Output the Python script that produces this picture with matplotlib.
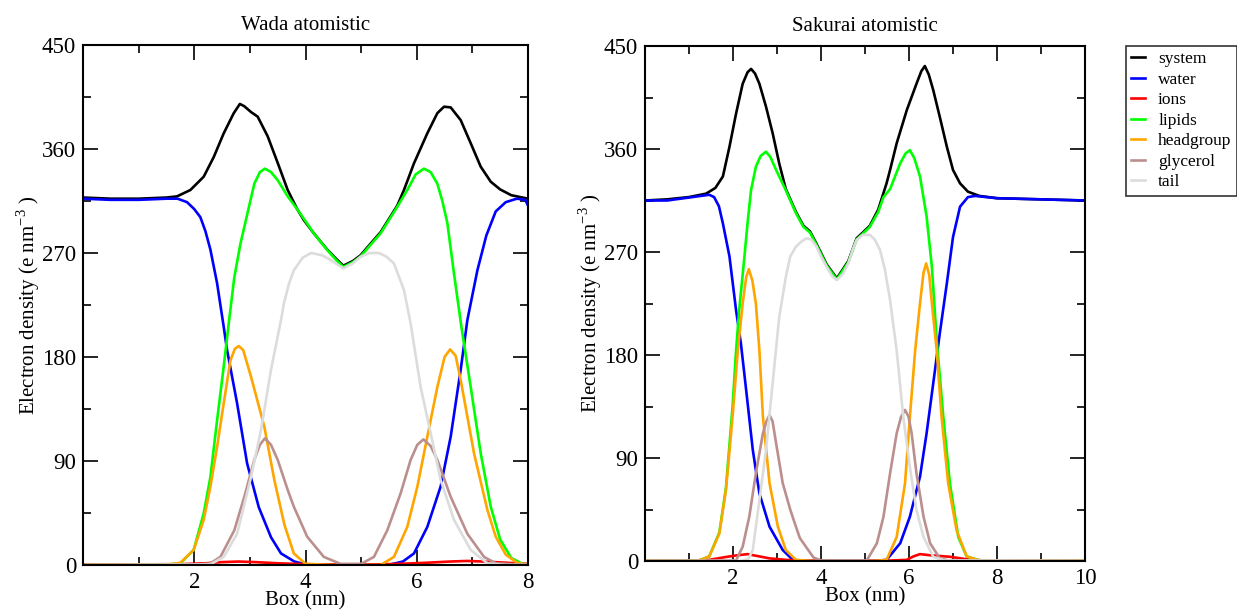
import matplotlib
matplotlib.use('Agg')
import matplotlib.pyplot as plt
from matplotlib.ticker import MultipleLocator

plt.rcParams['font.family'] = ['Liberation Serif', 'DejaVu Serif']
plt.rcParams['mathtext.fontset'] = 'custom'
plt.rcParams['mathtext.rm'] = 'Liberation Serif'

# ---- Wada atomistic (left) ----
wada_system_x = [0, 0.5, 1.0, 1.5, 1.69, 1.93, 2.17, 2.35, 2.53, 2.71, 2.82, 2.9, 3.02, 3.14, 3.32, 3.5,
                 3.68, 3.85, 3.97, 4.15, 4.39, 4.55, 4.68, 4.85, 4.99, 5.15, 5.35, 5.65, 5.77, 5.95, 6.19,
                 6.37, 6.49, 6.61, 6.79, 6.97, 7.15, 7.33, 7.5, 7.7, 8.0]
wada_system_y = [318, 317, 317, 318, 319, 324.5, 336, 353, 373.6, 391, 399, 397, 392, 388, 371, 348,
                 324.5, 308, 298.5, 287, 273, 265, 259, 263, 268, 277, 288, 311, 324.5, 347.6, 373.6,
                 391, 396.6, 396, 385, 365, 344.7, 331.7, 325, 320, 317]

wada_water_x = [0, 0.5, 1.0, 1.5, 1.7, 1.87, 2.0, 2.11, 2.2, 2.29, 2.41, 2.53, 2.59, 2.77, 2.95, 3.16,
                3.38, 3.56, 3.8, 4.0, 4.5, 5.0, 5.53, 5.75, 5.95, 6.19, 6.43, 6.61, 6.79, 6.91, 7.09,
                7.25, 7.42, 7.6, 7.8, 7.95, 8.0]
wada_water_y = [317, 316, 316, 317, 317, 314, 308, 301, 289, 273, 244, 206, 186, 140, 88, 50,
                24, 10, 3, 0.5, 0, 0, 0.5, 3, 10, 33, 68, 111, 169, 212, 255,
                285, 306, 314, 317, 316, 311]

wada_ions_x = [0, 1, 1.8, 2.2, 2.5, 2.8, 3.1, 3.5, 4.0, 4.7, 5.4, 5.8, 6.2, 6.6, 6.9, 7.2, 7.6, 8.0]
wada_ions_y = [0.5, 0.5, 0.8, 1.5, 2.5, 3, 2.5, 1.5, 0.7, 0.3, 0.6, 1.2, 2, 3, 3.5, 3, 2, 1]

wada_lipids_x = [0, 1.0, 1.5, 1.75, 1.99, 2.17, 2.29, 2.41, 2.53, 2.62, 2.72, 2.83, 2.95, 3.08, 3.18,
                 3.27, 3.38, 3.5, 3.68, 3.85, 4.15, 4.39, 4.55, 4.68, 4.85, 4.99, 5.15, 5.35, 5.65,
                 5.83, 5.98, 6.13, 6.25, 6.37, 6.46, 6.55, 6.67, 6.8, 6.97, 7.15, 7.33, 7.5, 7.7, 7.9, 8.0]
wada_lipids_y = [0, 0, 0.3, 1.5, 13, 44.7, 76, 125, 172, 209, 249, 278, 303, 330, 340,
                 343, 340, 333, 319, 308, 287, 272.6, 264, 258, 262, 267, 276, 287, 310,
                 324.5, 338, 343, 340, 330, 315, 296, 252, 207, 154, 96.6, 50.5, 22, 6, 1, 0.3]

wada_head_x = [0, 1.5, 1.75, 1.99, 2.17, 2.29, 2.41, 2.53, 2.65, 2.73, 2.8, 2.88, 3.02, 3.26, 3.44,
               3.62, 3.79, 4.0, 4.5, 5.0, 5.35, 5.59, 5.83, 6.01, 6.19, 6.37, 6.5, 6.6, 6.7, 6.79,
               7.03, 7.27, 7.42, 7.6, 7.8, 8.0]
wada_head_y = [0, 0, 2, 13, 39, 67.7, 102, 140, 177, 187, 189.5, 186, 163, 119.7, 73.5,
               35, 10, 1, 0, 0, 0, 7, 33, 67.7, 111, 154, 180, 186.6, 181, 160,
               96.6, 47.6, 24.5, 9, 2, 0]

wada_glyc_x = [0, 2.0, 2.29, 2.47, 2.72, 2.9, 3.08, 3.18, 3.27, 3.38, 3.5, 3.68, 3.79, 4.03, 4.33,
               4.63, 5.0, 5.23, 5.47, 5.71, 5.89, 6.01, 6.12, 6.25, 6.37, 6.61, 6.91, 7.21, 7.42, 8.0]
wada_glyc_y = [0, 0, 1.5, 7, 30, 59, 91, 104, 109.6, 104, 91, 65, 50.5, 24.5, 7,
               1, 1, 7, 30, 62, 91, 104, 108.7, 103, 91, 59, 27, 7, 1.5, 0]

wada_tail_x = [0, 2.29, 2.53, 2.77, 3.02, 3.2, 3.38, 3.56, 3.61, 3.7, 3.79, 3.95, 4.1, 4.3, 4.45,
               4.68, 4.85, 4.99, 5.15, 5.32, 5.45, 5.59, 5.77, 5.89, 6.07, 6.25, 6.43, 6.67, 6.97,
               7.27, 7.6, 8.0]
wada_tail_y = [0, 0.5, 7, 27, 76, 117, 169, 212, 226, 243, 255, 266, 270, 268, 264,
               256.7, 261, 266.8, 270, 270, 267, 261, 238, 209, 154, 114, 73.5, 39, 13,
               1.5, 0, 0]

# ---- Sakurai atomistic (right) ----
sak_system_x = [0, 0.5, 1.0, 1.39, 1.6, 1.77, 1.92, 2.07, 2.22, 2.33, 2.41, 2.5, 2.6, 2.75, 2.9, 3.05,
                3.2, 3.43, 3.6, 3.75, 3.9, 4.13, 4.36, 4.62, 4.81, 4.95, 5.11, 5.3, 5.49, 5.57, 5.72,
                5.95, 6.17, 6.28, 6.36, 6.45, 6.55, 6.7, 6.86, 7.0, 7.16, 7.34, 7.6, 8.0, 9.0, 10.0]
sak_system_y = [315, 316, 318, 321, 326, 336, 362, 391, 417, 427, 430, 426, 417, 397, 374, 347.5,
                325, 305, 293, 288, 277, 259, 247, 262, 282, 287, 293, 307, 330, 341.7, 365,
                394, 417, 428, 432.5, 425, 411.6, 388, 362, 341.7, 330, 322.7, 319, 317, 316, 315]

sak_water_x = [0, 0.5, 1.08, 1.46, 1.57, 1.68, 1.77, 1.92, 2.07, 2.18, 2.3, 2.45, 2.6, 2.83, 3.13,
               3.36, 3.7, 4.4, 5.2, 5.49, 5.8, 6.02, 6.25, 6.4, 6.55, 6.7, 6.86, 7.0, 7.16, 7.34,
               7.5, 8.0, 9.0, 10.0]
sak_water_y = [315, 315, 318, 320, 318, 310, 295, 266, 219, 190, 149, 97, 59, 30, 9.6,
               1, 0, 0, 0, 1, 15.5, 38.7, 73.7, 111.6, 155, 199, 242.6, 283, 309.6, 318,
               319, 317, 316, 315]

sak_ions_x = [0, 1.0, 1.46, 1.84, 2.1, 2.33, 2.6, 2.83, 3.2, 3.6, 4.5, 5.5, 5.95, 6.1, 6.25, 6.48,
              6.93, 7.31, 7.7, 8.5, 10]
sak_ions_y = [0.3, 0.3, 1, 3.5, 5, 6, 4, 2.3, 1, 0.3, 0, 0.3, 1, 4, 6, 5,
              3.7, 1.5, 0.5, 0.2, 0.2]

sak_lipids_x = [0, 1.0, 1.23, 1.46, 1.69, 1.84, 1.99, 2.07, 2.14, 2.26, 2.33, 2.41, 2.52, 2.63, 2.75,
                2.85, 2.98, 3.2, 3.43, 3.6, 3.75, 3.9, 4.13, 4.36, 4.62, 4.81, 4.95, 5.11, 5.3, 5.42,
                5.57, 5.8, 5.92, 6.02, 6.12, 6.25, 6.4, 6.52, 6.63, 6.78, 6.93, 7.12, 7.31, 7.6, 8.0, 10.0]
sak_lipids_y = [0, 0, 0.5, 4, 25, 64, 135, 184, 219, 266, 295, 324, 344.5, 354, 357.6,
                353, 341.7, 324, 304, 292, 287, 276, 258, 246, 261, 281, 286, 292, 305, 318,
                325, 347.5, 356, 359, 352, 336, 301, 257, 193, 126, 68, 21, 4, 0.5, 0, 0]

sak_head_x = [0, 1.0, 1.23, 1.46, 1.69, 1.84, 1.99, 2.11, 2.22, 2.3, 2.36, 2.44, 2.52, 2.6, 2.68,
              2.83, 3.02, 3.2, 3.43, 3.8, 5.2, 5.49, 5.72, 5.91, 6.02, 6.14, 6.25, 6.33, 6.39, 6.46,
              6.52, 6.63, 6.74, 6.89, 7.08, 7.31, 7.6, 10.0]
sak_head_y = [0, 0, 0.5, 4, 24, 62, 126, 184, 225, 248, 255, 245, 225, 184, 126,
              68, 30, 9.6, 1, 0, 0, 1, 21, 68, 126, 184, 225, 252, 260, 250,
              225, 184, 126, 68, 27, 4, 0.5, 0]

sak_glyc_x = [0, 2.07, 2.22, 2.37, 2.52, 2.68, 2.76, 2.83, 2.9, 2.98, 3.13, 3.3, 3.43, 3.52, 3.83,
              4.0, 5.04, 5.27, 5.42, 5.57, 5.72, 5.82, 5.91, 5.99, 6.06, 6.17, 6.33, 6.48, 6.7, 6.9, 10.0]
sak_glyc_y = [0, 0.5, 12.5, 38.7, 76.6, 111.6, 122, 127.6, 122, 102.8, 68, 45, 30, 20, 3,
              0.5, 0.5, 15.5, 38.7, 76.6, 111.6, 126, 132, 126, 111.6, 76.6, 38.7, 15.5, 2.3, 0.5, 0]

sak_tail_x = [0, 2.2, 2.35, 2.45, 2.6, 2.75, 2.9, 3.05, 3.2, 3.3, 3.43, 3.55, 3.67, 3.78, 3.9, 4.0,
              4.13, 4.25, 4.36, 4.5, 4.62, 4.72, 4.81, 4.95, 5.11, 5.22, 5.34, 5.45, 5.57, 5.72, 5.87,
              6.02, 6.17, 6.33, 6.55, 6.8, 10.0]
sak_tail_y = [0, 0, 2, 9.6, 53, 97, 155, 213, 248, 266, 274.6, 279, 282, 281, 274.6, 266,
              257, 249, 245.5, 251, 260, 272, 280.5, 285, 285, 281, 272, 255, 228, 184, 126,
              82, 44.6, 21, 3.7, 0.5, 0]

labels = ['system', 'water', 'ions', 'lipids', 'headgroup', 'glycerol', 'tail']
colors = ['black', '#0000ff', '#ff0000', '#00ff00', '#ffa500', '#bc8f8f', '#dcdcdc']

wada = [(wada_system_x, wada_system_y), (wada_water_x, wada_water_y), (wada_ions_x, wada_ions_y),
        (wada_lipids_x, wada_lipids_y), (wada_head_x, wada_head_y), (wada_glyc_x, wada_glyc_y),
        (wada_tail_x, wada_tail_y)]
sakurai = [(sak_system_x, sak_system_y), (sak_water_x, sak_water_y), (sak_ions_x, sak_ions_y),
           (sak_lipids_x, sak_lipids_y), (sak_head_x, sak_head_y), (sak_glyc_x, sak_glyc_y),
           (sak_tail_x, sak_tail_y)]

fig = plt.figure(figsize=(12.37, 6.10), dpi=100)
ax1 = fig.add_axes([83 / 1237, 1 - 565 / 610, 445 / 1237, 520 / 610])
ax2 = fig.add_axes([645 / 1237, 1 - 561 / 610, 440 / 1237, 515 / 610])


def style(ax, title, xmax):
    ax.set_xlim(0, xmax)
    ax.set_ylim(0, 450)
    ax.xaxis.set_minor_locator(MultipleLocator(1))
    ax.yaxis.set_major_locator(MultipleLocator(90))
    ax.yaxis.set_minor_locator(MultipleLocator(45))
    ax.set_xticks([t for t in range(2, xmax + 1, 2)])
    ax.tick_params(which='both', direction='in', top=True, right=True, width=1.2, labelsize=16.5)
    ax.tick_params(which='major', length=11, pad=5)
    ax.tick_params(which='minor', length=5.5)
    for s in ax.spines.values():
        s.set_linewidth(1.5)
    ax.set_title(title, fontsize=15, pad=11)
    ax.set_xlabel('Box (nm)', fontsize=15, labelpad=-1)
    ax.set_ylabel('Electron density (e nm$^{\\mathregular{-3}}$ )', fontsize=15, labelpad=0)


for ax, series, title, xmax in [(ax1, wada, 'Wada atomistic', 8), (ax2, sakurai, 'Sakurai atomistic', 10)]:
    for (xs, ys), lab, col in zip(series, labels, colors):
        ax.plot(xs, ys, color=col, lw=1.9, label=lab)
    style(ax, title, xmax)

handles, labs = ax2.get_legend_handles_labels()
leg = fig.legend(handles, labs, loc='upper left', bbox_to_anchor=(1126 / 1237, 1 - 46 / 610),
                 fontsize=12.5, frameon=True, fancybox=False, handlelength=0.8, handletextpad=0.75,
                 labelspacing=0.25, borderpad=0.3, borderaxespad=0)
leg.get_frame().set_edgecolor('black')
leg.get_frame().set_linewidth(1.2)

fig.savefig('out.png', dpi=100)
